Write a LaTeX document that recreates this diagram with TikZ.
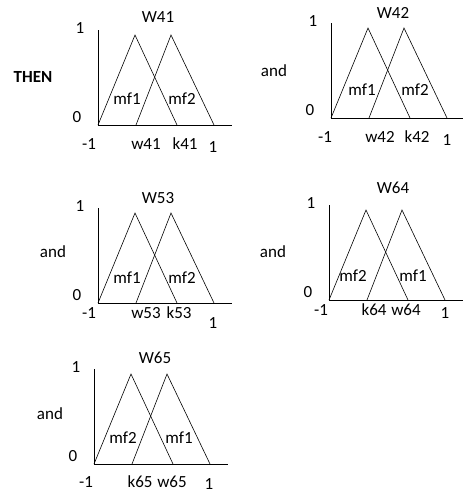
\documentclass[tikz,border=0pt]{standalone}
\usepackage{fontspec}
\setmainfont{Carlito}
\newcommand\mfgeom[3]{%
  \coordinate (#1o) at (#2,#3);
  \coordinate (#1t) at ($(#1o)+(0,-95)$);
  \coordinate (#1r) at ($(#1o)+(134,0)$);
  \coordinate (#1a) at ($(#1o)+(37,-90)$);
  \coordinate (#1b) at ($(#1o)+(79,0)$);
  \coordinate (#1c) at ($(#1o)+(38,0)$);
  \coordinate (#1d) at ($(#1o)+(73,-90)$);
  \coordinate (#1e) at ($(#1o)+(116,0)$);
  \draw[axis] (#1t) -- (#1o) -- (#1r);
  \draw[tri] (#1o) -- (#1a) -- (#1b);
  \draw[tri] (#1c) -- (#1d) -- (#1e);
  \node[txt] (#1one) at ($(#1o)+(-18,-97)$) {1};
  \node[txt] (#1zero) at ($(#1o)+(-21,-8)$) {0};
}
\usetikzlibrary{calc}
\begin{document}
\begin{tikzpicture}[x=1pt,y=-1pt,
  axis/.style={line width=0.8pt},
  tri/.style={line width=0.6pt},
  txt/.style={inner sep=0pt,font=\fontsize{17}{20}\selectfont},
  side/.style={txt}]
\useasboundingbox (0,0) rectangle (463,493);
% panel 1
\mfgeom{A}{98}{125}
\node[txt] (Atitle) at (158,17) {W41};
\node[txt] (Am) at (89,144) {-1};
\node[txt] (Aw) at (146,144) {w41};
\node[txt] (Ak) at (185,144) {k41};
\node[txt] (Ap) at (213,147) {1};
\node[txt] (Amf1) at (127,99) {mf1};
\node[txt] (Amf2) at (182,99) {mf2};
\node[txt,font=\fontsize{17}{20}\selectfont\bfseries] (then) at (33,77) {THEN};
% panel 2
\mfgeom{B}{331}{118}
\node[txt] (Btitle) at (393,13) {W42};
\node[txt] (Bm) at (325,137) {-1};
\node[txt] (Bw) at (380,137) {w42};
\node[txt] (Bk) at (417,137) {k42};
\node[txt] (Bp) at (447,140) {1};
\node[txt] (Bmf1) at (362,90) {mf1};
\node[txt] (Bmf2) at (415,90) {mf2};
\node[side] (and2) at (274,71) {and};
% panel 3
\mfgeom{C}{98}{303}
\node[txt] (Ctitle) at (158,198) {W53};
\node[txt] (Cm) at (89,313) {-1};
\node[txt] (Cw) at (146,313) {w53};
\node[txt] (Ck) at (179,313) {k53};
\node[txt] (Cp) at (213,323) {1};
\node[txt] (Cmf1) at (127,278) {mf1};
\node[txt] (Cmf2) at (182,278) {mf2};
\node[side] (and3) at (53,252) {and};
% panel 4
\mfgeom{D}{329}{300}
\node[txt] (Dtitle) at (393,188) {W64};
\node[txt] (Dm) at (321,310) {-1};
\node[txt] (Dk) at (374,310) {k64};
\node[txt] (Dw) at (406,310) {w64};
\node[txt] (Dp) at (445,313) {1};
\node[txt] (Dmf2) at (353,276) {mf2};
\node[txt] (Dmf1) at (413,276) {mf1};
\node[side] (and4) at (273,252) {and};
% panel 5
\mfgeom{E}{94}{464}
\node[txt] (Etitle) at (155,358) {W65};
\node[txt] (Em) at (86,482) {-1};
\node[txt] (Ek) at (140,482) {k65};
\node[txt] (Ew) at (172,482) {w65};
\node[txt] (Ep) at (209,484) {1};
\node[txt] (Emf2) at (123,438) {mf2};
\node[txt] (Emf1) at (179,438) {mf1};
\node[side] (and5) at (50,414) {and};
\end{tikzpicture}
\end{document}
